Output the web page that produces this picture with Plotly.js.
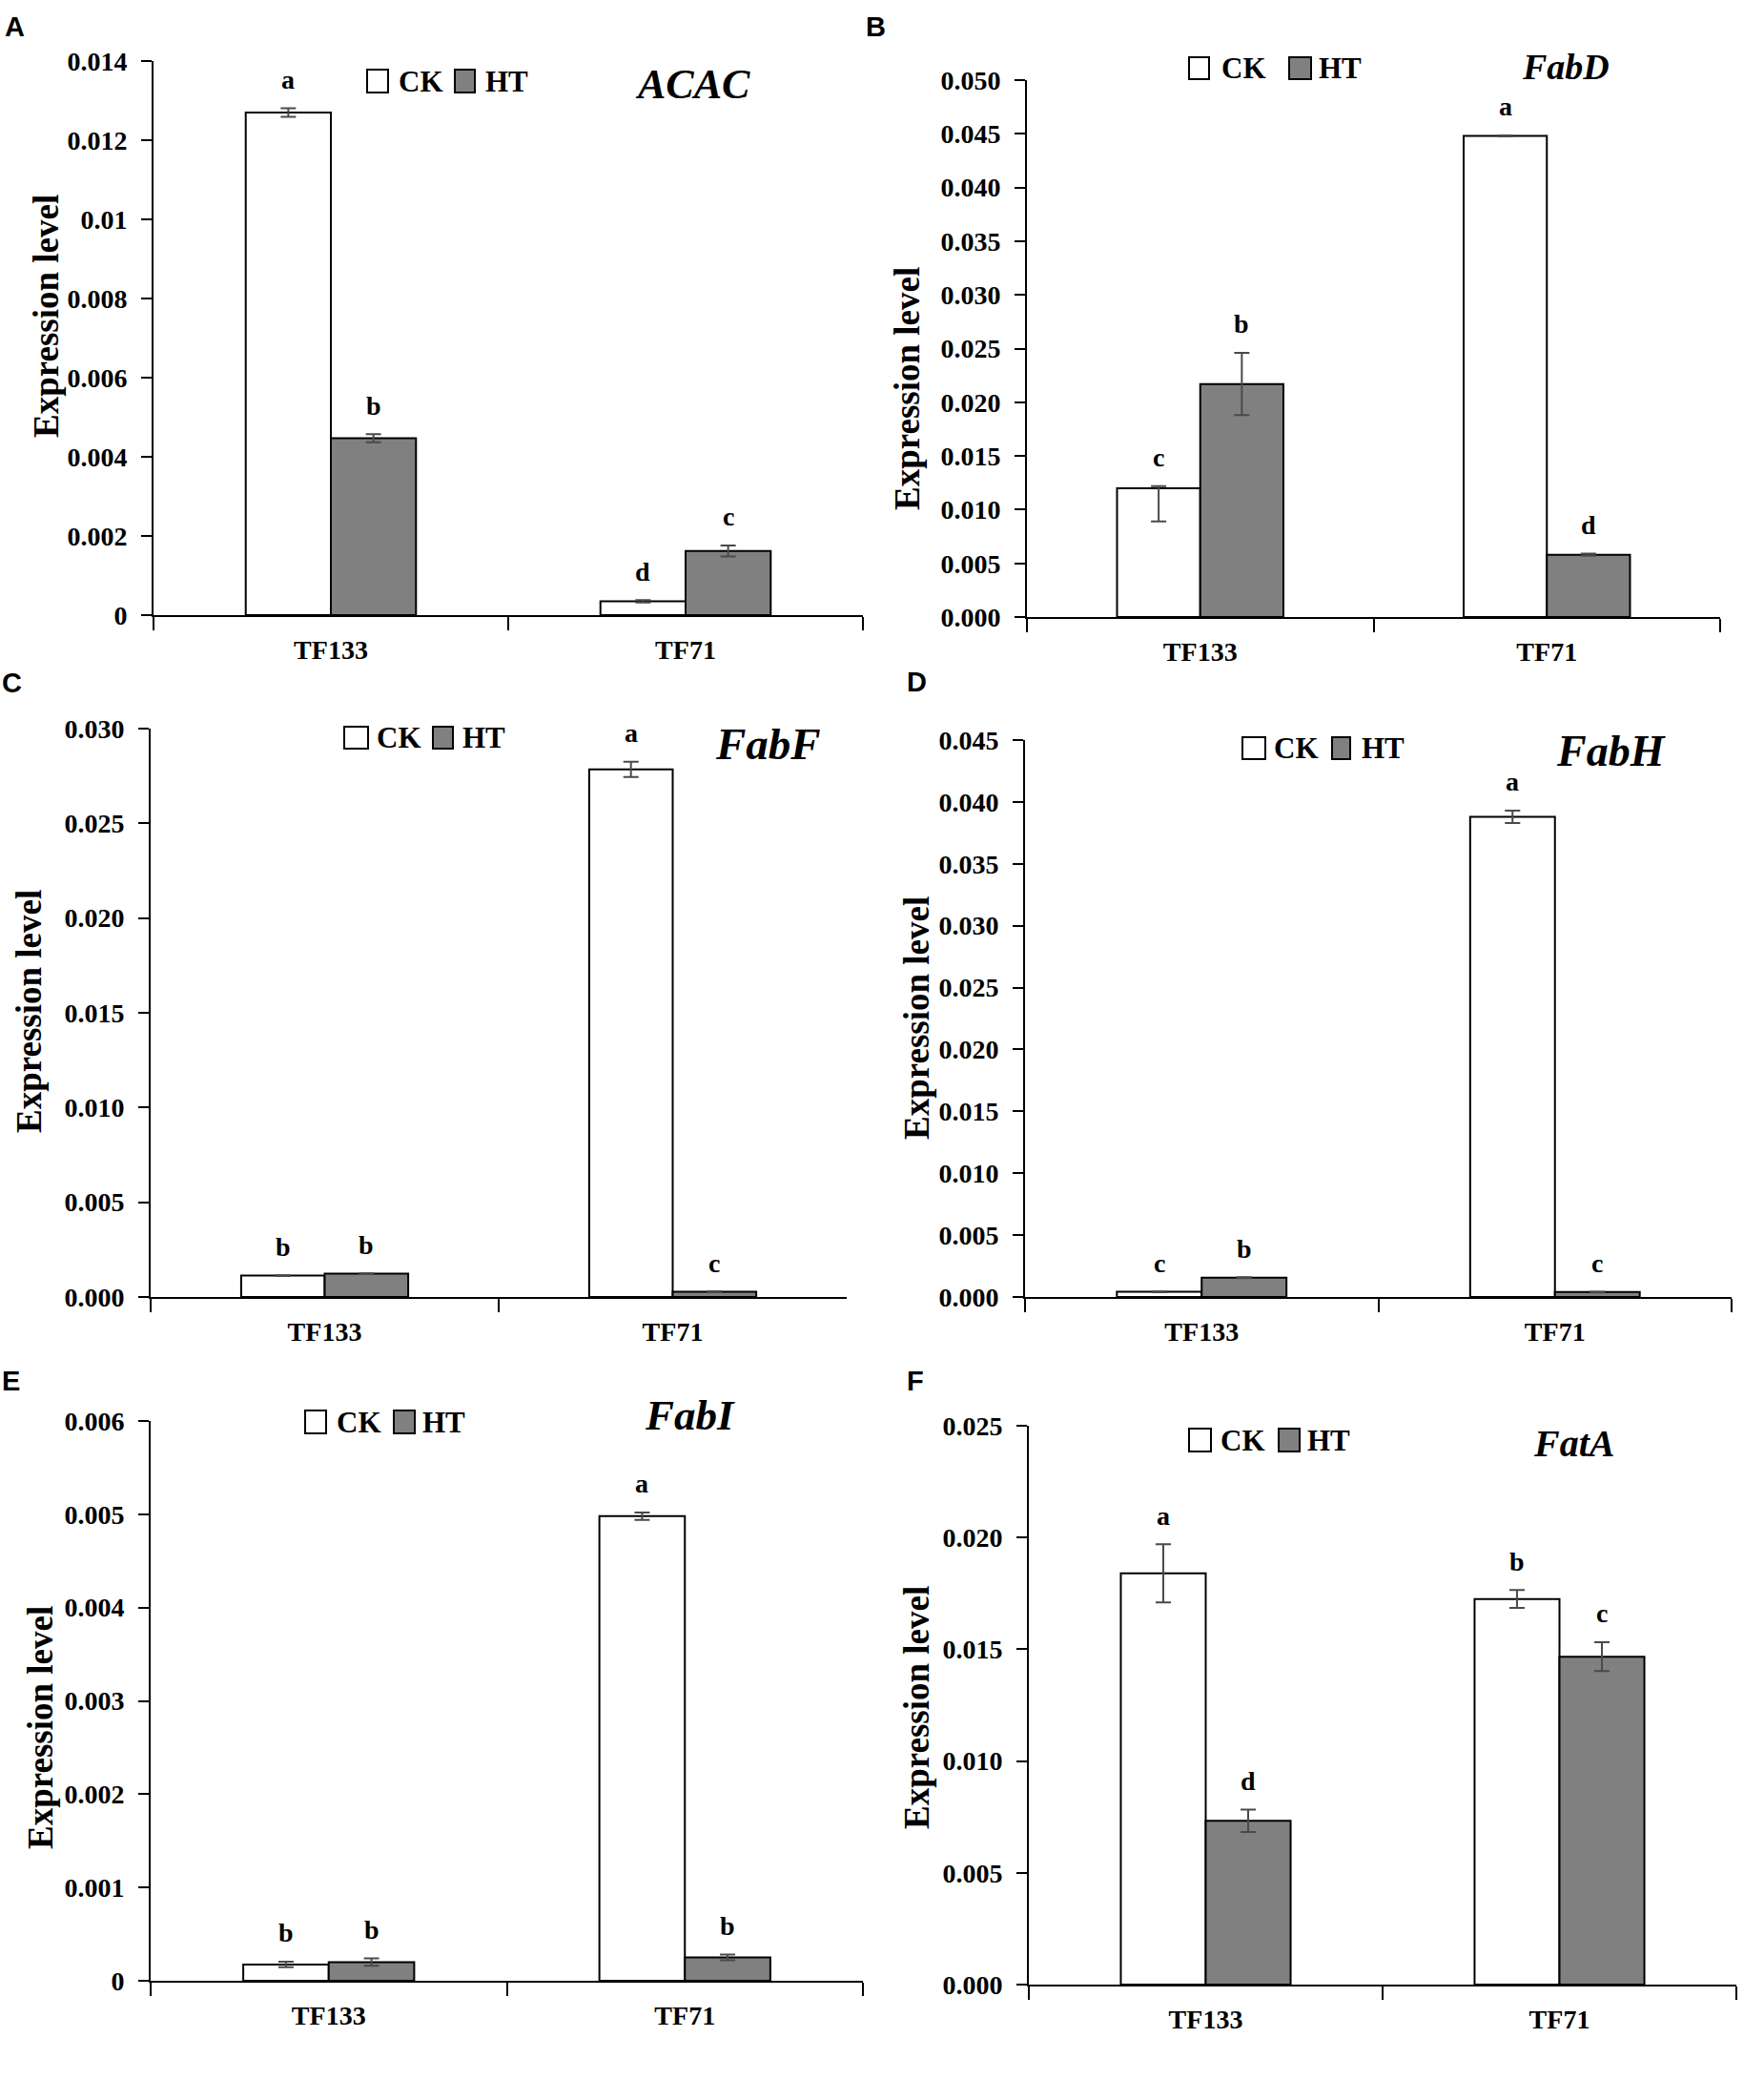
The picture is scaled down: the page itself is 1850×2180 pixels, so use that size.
<!DOCTYPE html>
<html>
<head>
<meta charset="utf-8">
<script src="https://cdn.plot.ly/plotly-3.0.1.min.js"></script>
<style>html,body{margin:0;padding:0;background:#fff;}#chart{width:1850px;height:2180px;}</style>
</head>
<body>
<div id="chart"></div>
<script>
// ---------------- DATA ----------------
const categories = ['TF133', 'TF71'];
const genes = ['ACAC', 'FabD', 'FabF', 'FabH', 'FabI', 'FatA'];
const panelLetters = ['A', 'B', 'C', 'D', 'E', 'F'];
const seriesNames = ['CK', 'HT'];
const axisTitle = 'Expression level';

// ACAC
const acacCK = [0.0127, 0.00035];
const acacCKErrUp = [0.00011, 0.00003];
const acacCKErrDown = [0.00011, 0.00003];
const acacHT = [0.00447, 0.00162];
const acacHTErr = [0.0001, 0.00014];
const acacCKLetters = ['a', 'd'];
const acacHTLetters = ['b', 'c'];

// FabD
const fabdCK = [0.0120, 0.0448];
const fabdCKErrUp = [0.0002, 0.00005];
const fabdCKErrDown = [0.0031, 0.00005];
const fabdHT = [0.0217, 0.0058];
const fabdHTErr = [0.0029, 0.0001];
const fabdCKLetters = ['c', 'a'];
const fabdHTLetters = ['b', 'd'];

// FabF
const fabfCK = [0.00113, 0.02785];
const fabfCKErrUp = [0.00002, 0.0004];
const fabfCKErrDown = [0.00002, 0.0004];
const fabfHT = [0.00123, 0.00028];
const fabfHTErr = [0.00002, 0.00002];
const fabfCKLetters = ['b', 'a'];
const fabfHTLetters = ['b', 'c'];

// FabH
const fabhCK = [0.00042, 0.0388];
const fabhCKErrUp = [0.00003, 0.0005];
const fabhCKErrDown = [0.00003, 0.0005];
const fabhHT = [0.00156, 0.0004];
const fabhHTErr = [0.00004, 0.00003];
const fabhCKLetters = ['c', 'a'];
const fabhHTLetters = ['b', 'c'];

// FabI
const fabiCK = [0.000175, 0.00498];
const fabiCKErrUp = [0.00003, 0.00004];
const fabiCKErrDown = [0.00003, 0.00004];
const fabiHT = [0.0002, 0.00025];
const fabiHTErr = [0.00004, 0.00003];
const fabiCKLetters = ['b', 'a'];
const fabiHTLetters = ['b', 'b'];

// FatA
const fataCK = [0.0184, 0.01725];
const fataCKErrUp = [0.0013, 0.0004];
const fataCKErrDown = [0.0013, 0.0004];
const fataHT = [0.00733, 0.01467];
const fataHTErr = [0.0005, 0.00065];
const fataCKLetters = ['a', 'b'];
const fataHTLetters = ['d', 'c'];

// y-axis scales
const yMax = [0.014, 0.05, 0.03, 0.045, 0.006, 0.025];
const yStep = [0.002, 0.005, 0.005, 0.005, 0.001, 0.005];
const yFormat = ['', '.3f', '.3f', '.3f', '', '.3f'];

// ---------------- LAYOUT / STYLE ----------------
const W = 1850, H = 2180;
const SERIF = 'Liberation Serif, Times New Roman, serif';
const SANS = 'Liberation Sans, Arial, sans-serif';
const BAR_GAP = 0.52;

const panelData = [
  {ck: acacCK, ckUp: acacCKErrUp, ckDown: acacCKErrDown, ht: acacHT, htErr: acacHTErr, ckL: acacCKLetters, htL: acacHTLetters},
  {ck: fabdCK, ckUp: fabdCKErrUp, ckDown: fabdCKErrDown, ht: fabdHT, htErr: fabdHTErr, ckL: fabdCKLetters, htL: fabdHTLetters},
  {ck: fabfCK, ckUp: fabfCKErrUp, ckDown: fabfCKErrDown, ht: fabfHT, htErr: fabfHTErr, ckL: fabfCKLetters, htL: fabfHTLetters},
  {ck: fabhCK, ckUp: fabhCKErrUp, ckDown: fabhCKErrDown, ht: fabhHT, htErr: fabhHTErr, ckL: fabhCKLetters, htL: fabhHTLetters},
  {ck: fabiCK, ckUp: fabiCKErrUp, ckDown: fabiCKErrDown, ht: fabiHT, htErr: fabiHTErr, ckL: fabiCKLetters, htL: fabiHTLetters},
  {ck: fataCK, ckUp: fataCKErrUp, ckDown: fataCKErrDown, ht: fataHT, htErr: fataHTErr, ckL: fataCKLetters, htL: fataHTLetters}
];

// pixel geometry of each panel (plot area)
const boxes = [
  {x0: 161, x1: 905, yTop: 64, yZero: 645},
  {x0: 1077, x1: 1804, yTop: 84, yZero: 647},
  {x0: 158, x1: 888, yTop: 764, yZero: 1360},
  {x0: 1075, x1: 1816, yTop: 776, yZero: 1360},
  {x0: 158, x1: 905, yTop: 1490, yZero: 2077},
  {x0: 1079, x1: 1821, yTop: 1495, yZero: 2081}
];
// y-title centres
const yTitlePos = [[48, 332], [951, 407], [30, 1061], [961, 1068], [42, 1812], [961, 1791]];
// gene label centres and sizes
const genePos = [[726, 88, 44], [1642, 70, 38], [805, 780, 47], [1689, 787, 46], [723, 1484, 45], [1650, 1513, 40]];
// panel-letter positions
const letterPos = [[3, 28], [906, 28], [0, 716], [949, 715], [0, 1448], [949, 1448]];
// legend: [box1x0, box1x1, text1x, box2x0, box2x1, text2x, yTop, yBot]
const legendPos = [
  [385, 407, 416, 477, 498, 507, 73, 97],
  [1247, 1268, 1279, 1352, 1375, 1381, 60, 83],
  [361, 386, 393, 454, 475, 483, 762, 785],
  [1303, 1327, 1334, 1397, 1416, 1426, 773, 796],
  [320, 342, 351, 413, 435, 441, 1479, 1503],
  [1247, 1270, 1278, 1341, 1363, 1369, 1498, 1522]
];

const px = v => v / W;
const py = v => 1 - v / H;

const traces = [];
const layout = {
  width: W, height: H,
  margin: {l: 0, r: 0, t: 0, b: 0},
  paper_bgcolor: '#ffffff', plot_bgcolor: '#ffffff',
  barmode: 'group', bargap: BAR_GAP, bargroupgap: 0,
  showlegend: false,
  font: {family: SERIF, color: '#000'},
  annotations: [], shapes: []
};

const tickFont = {family: SERIF, size: 28, weight: 'bold', color: '#000'};
const errStyle = {color: '#4a4a4a', thickness: 2, width: 8};

panelData.forEach((d, i) => {
  const xid = i === 0 ? 'x' : 'x' + (i + 1);
  const yid = i === 0 ? 'y' : 'y' + (i + 1);
  const xa = i === 0 ? 'xaxis' : 'xaxis' + (i + 1);
  const ya = i === 0 ? 'yaxis' : 'yaxis' + (i + 1);
  const b = boxes[i];

  traces.push({
    type: 'bar', name: seriesNames[0], x: categories, y: d.ck, xaxis: xid, yaxis: yid,
    marker: {color: '#ffffff', line: {color: '#000', width: 2}},
    error_y: Object.assign({type: 'data', symmetric: false, array: d.ckUp, arrayminus: d.ckDown, visible: true}, errStyle),
    hoverinfo: 'x+y+name'
  });
  traces.push({
    type: 'bar', name: seriesNames[1], x: categories, y: d.ht, xaxis: xid, yaxis: yid,
    marker: {color: '#808080', line: {color: '#000', width: 2}},
    error_y: Object.assign({type: 'data', array: d.htErr, visible: true}, errStyle),
    hoverinfo: 'x+y+name'
  });

  layout[xa] = {
    domain: [px(b.x0), px(b.x1)], anchor: yid, type: 'category',
    categoryorder: 'array', categoryarray: categories, range: [-0.5, 1.5],
    showline: true, linecolor: '#000', linewidth: 2,
    ticks: 'outside', tickson: 'boundaries', ticklen: 14, tickwidth: 2, tickcolor: '#000',
    ticklabelstandoff: 10,
    showgrid: false, zeroline: false, tickfont: tickFont, fixedrange: true
  };
  layout[ya] = {
    domain: [py(b.yZero), py(b.yTop)], anchor: xid,
    range: [0, yMax[i]], tick0: 0, dtick: yStep[i], tickformat: yFormat[i],
    showline: true, linecolor: '#000', linewidth: 2,
    ticks: 'outside', ticklen: 11, tickwidth: 2, tickcolor: '#000',
    ticklabelstandoff: 9,
    showgrid: false, zeroline: false, tickfont: tickFont, fixedrange: true
  };

  // significance letters above bars (+ error)
  const off = (1 - BAR_GAP) / 4;
  categories.forEach((c, j) => {
    layout.annotations.push({
      x: j - off, xref: xid, y: d.ck[j] + d.ckUp[j], yref: yid,
      text: '<b>' + d.ckL[j] + '</b>', showarrow: false, yanchor: 'middle', yshift: 30,
      font: {family: SERIF, size: 28, color: '#000'}
    });
    layout.annotations.push({
      x: j + off, xref: xid, y: d.ht[j] + d.htErr[j], yref: yid,
      text: '<b>' + d.htL[j] + '</b>', showarrow: false, yanchor: 'middle', yshift: 30,
      font: {family: SERIF, size: 28, color: '#000'}
    });
  });

  // y-axis title
  layout.annotations.push({
    x: px(yTitlePos[i][0]), y: py(yTitlePos[i][1]), xref: 'paper', yref: 'paper',
    text: '<b>' + axisTitle + '</b>', textangle: -90, showarrow: false,
    xanchor: 'center', yanchor: 'middle',
    font: {family: SERIF, size: 37, color: '#000'}
  });

  // gene name
  layout.annotations.push({
    x: px(genePos[i][0]), y: py(genePos[i][1]), xref: 'paper', yref: 'paper',
    text: '<b><i>' + genes[i] + '</i></b>', showarrow: false,
    xanchor: 'center', yanchor: 'middle',
    font: {family: SERIF, size: genePos[i][2], color: '#000'}
  });

  // panel letter
  layout.annotations.push({
    x: px(letterPos[i][0]), y: py(letterPos[i][1]), xref: 'paper', yref: 'paper',
    text: '<b>' + panelLetters[i] + '</b>', showarrow: false,
    xanchor: 'left', yanchor: 'middle',
    font: {family: SANS, size: 29, color: '#000'}
  });

  // legend
  const L = legendPos[i];
  const yc = (L[6] + L[7]) / 2;
  layout.shapes.push({type: 'rect', xref: 'paper', yref: 'paper',
    x0: px(L[0]), x1: px(L[1]), y0: py(L[7]), y1: py(L[6]),
    fillcolor: '#ffffff', line: {color: '#000', width: 2}});
  layout.shapes.push({type: 'rect', xref: 'paper', yref: 'paper',
    x0: px(L[3]), x1: px(L[4]), y0: py(L[7]), y1: py(L[6]),
    fillcolor: '#808080', line: {color: '#000', width: 2}});
  layout.annotations.push({
    x: px(L[2]), y: py(yc), xref: 'paper', yref: 'paper',
    text: '<b>' + seriesNames[0] + '</b>', showarrow: false, xanchor: 'left', yanchor: 'middle',
    font: {family: SERIF, size: 31, color: '#000'}
  });
  layout.annotations.push({
    x: px(L[5]), y: py(yc), xref: 'paper', yref: 'paper',
    text: '<b>' + seriesNames[1] + '</b>', showarrow: false, xanchor: 'left', yanchor: 'middle',
    font: {family: SERIF, size: 31, color: '#000'}
  });
});

Plotly.newPlot('chart', traces, layout, {displayModeBar: false, staticPlot: true});
</script>
</body>
</html>
